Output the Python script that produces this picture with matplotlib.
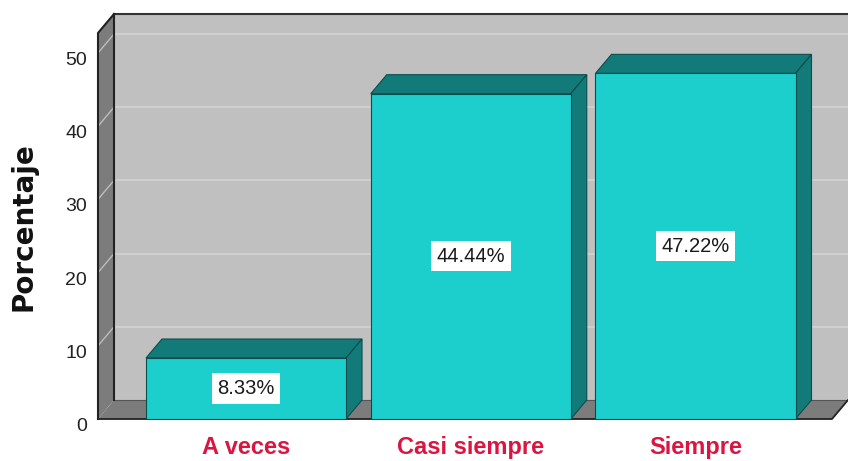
import matplotlib
matplotlib.use("Agg")
import matplotlib.pyplot as plt
from matplotlib.patches import Polygon
from matplotlib.transforms import ScaledTranslation

# ---- data ----
categories = ["A veces", "Casi siempre", "Siempre"]
values = [8.33, 44.44, 47.22]
value_labels = ["8.33%", "44.44%", "47.22%"]
yticks = [0, 10, 20, 30, 40, 50]
ylabel = "Porcentaje"

# ---- style ----
FRONT = "#1ccecc"
DARK = "#127a78"
EDGE = "#0c4d4b"
WALL_BACK = "#c0c0c0"
WALL_SIDE = "#7c7c7c"
GRID = "#d3d3d3"
LABEL_RED = "#dc1440"

W, H, DPI = 848, 461, 100
fig = plt.figure(figsize=(W / DPI, H / DPI), dpi=DPI, facecolor="white")

# axes geometry (pixels)
left_px, bottom_px, top_px = 98, 419, 14
px_per_unit_y = 7.32
px_per_cat = 224.75
first_center_px = 246

ax = fig.add_axes([left_px / W, (H - bottom_px) / H,
                   (W - left_px) / W, (bottom_px - top_px) / H])
xL = (left_px - first_center_px) / px_per_cat
xR = (W - first_center_px) / px_per_cat
ytop_all = (bottom_px - top_px) / px_per_unit_y
ax.set_xlim(xL, xR)
ax.set_ylim(0, ytop_all)
ax.set_facecolor("none")
for s in ax.spines.values():
    s.set_visible(False)

dx = 16 / px_per_cat
dy = 19 / px_per_unit_y
wall_top = ytop_all - dy

# back wall
ax.add_patch(Polygon([(xL + dx, dy), (xR + 0.2, dy), (xR + 0.2, wall_top + dy), (xL + dx, wall_top + dy)],
                     closed=True, facecolor=WALL_BACK, edgecolor="none", zorder=0, clip_on=False))
ax.plot([xL + dx, xR + 0.2], [wall_top + dy] * 2, color="#333333", lw=1.5, zorder=1, clip_on=False)
for t in yticks[1:]:
    ax.plot([xL + dx, xR + 0.2], [t + dy, t + dy], color=GRID, lw=1.2, zorder=1, clip_on=False)
# floor
ax.add_patch(Polygon([(xL, 0), (xR - dx, 0), (xR, dy), (xL + dx, dy)], closed=True,
                     facecolor=WALL_SIDE, edgecolor="none", zorder=2, clip_on=False))
ax.plot([xL + dx, xR], [dy, dy], color="#555555", lw=0.8, zorder=2, clip_on=False)
ax.plot([xL, xR - dx, xR], [0, 0, dy], color="#222222", lw=1.3, zorder=2, clip_on=False)
# left wall
ax.add_patch(Polygon([(xL, 0), (xL, wall_top), (xL + dx, wall_top + dy), (xL + dx, dy)], closed=True,
                     facecolor=WALL_SIDE, edgecolor="none", zorder=2, clip_on=False))
for t in yticks[1:]:
    ax.plot([xL, xL + dx], [t, t + dy], color="#bdbdbd", lw=1.0, zorder=2, clip_on=False)
ax.plot([xL, xL, xL + dx], [0, wall_top, wall_top + dy], color="#222222", lw=1.5, zorder=3, clip_on=False)
ax.plot([xL + dx, xL + dx], [dy, wall_top + dy], color="#222222", lw=1.5, zorder=3, clip_on=False)

# bars
x = list(range(len(categories)))
width = 0.89
ax.bar(x, values, width=width, color=FRONT, edgecolor=EDGE, linewidth=0.8, zorder=6)
for xi, v in zip(x, values):
    l, r = xi - width / 2, xi + width / 2
    ax.add_patch(Polygon([(l, v), (r, v), (r + dx, v + dy), (l + dx, v + dy)], closed=True,
                         facecolor=DARK, edgecolor=EDGE, linewidth=0.8, zorder=5))
    ax.add_patch(Polygon([(r, 0), (r, v), (r + dx, v + dy), (r + dx, dy)], closed=True,
                         facecolor=DARK, edgecolor=EDGE, linewidth=0.8, zorder=5))

# value labels
for xi, v, lab in zip(x, values, value_labels):
    ax.text(xi, v / 2, lab, ha="center", va="center", fontsize=14.5, family="Liberation Sans",
            color="#1a1a1a", zorder=8,
            bbox=dict(boxstyle="square,pad=0.28", facecolor="white", edgecolor="none"))

# ticks
ax.set_xticks(x)
ax.set_xticklabels(categories, fontsize=17, fontweight="bold", family="Liberation Sans", color=LABEL_RED)
ax.set_yticks(yticks)
ax.set_yticklabels([str(t) for t in yticks], fontsize=14, family="Liberation Sans", color="#222222")
ax.tick_params(axis="x", length=0, pad=12)
ax.tick_params(axis="y", length=0, pad=8)
off = ScaledTranslation(0, -4 / 72, fig.dpi_scale_trans)
for lbl in ax.get_yticklabels():
    lbl.set_transform(lbl.get_transform() + off)

ax.set_ylabel(ylabel, fontsize=20, fontweight="bold", family="DejaVu Sans", color="#111111", va="center")
ax.yaxis.set_label_coords((24 - left_px) / (W - left_px), (bottom_px - 227) / (bottom_px - top_px))

fig.savefig("out.png", dpi=DPI, facecolor="white")
